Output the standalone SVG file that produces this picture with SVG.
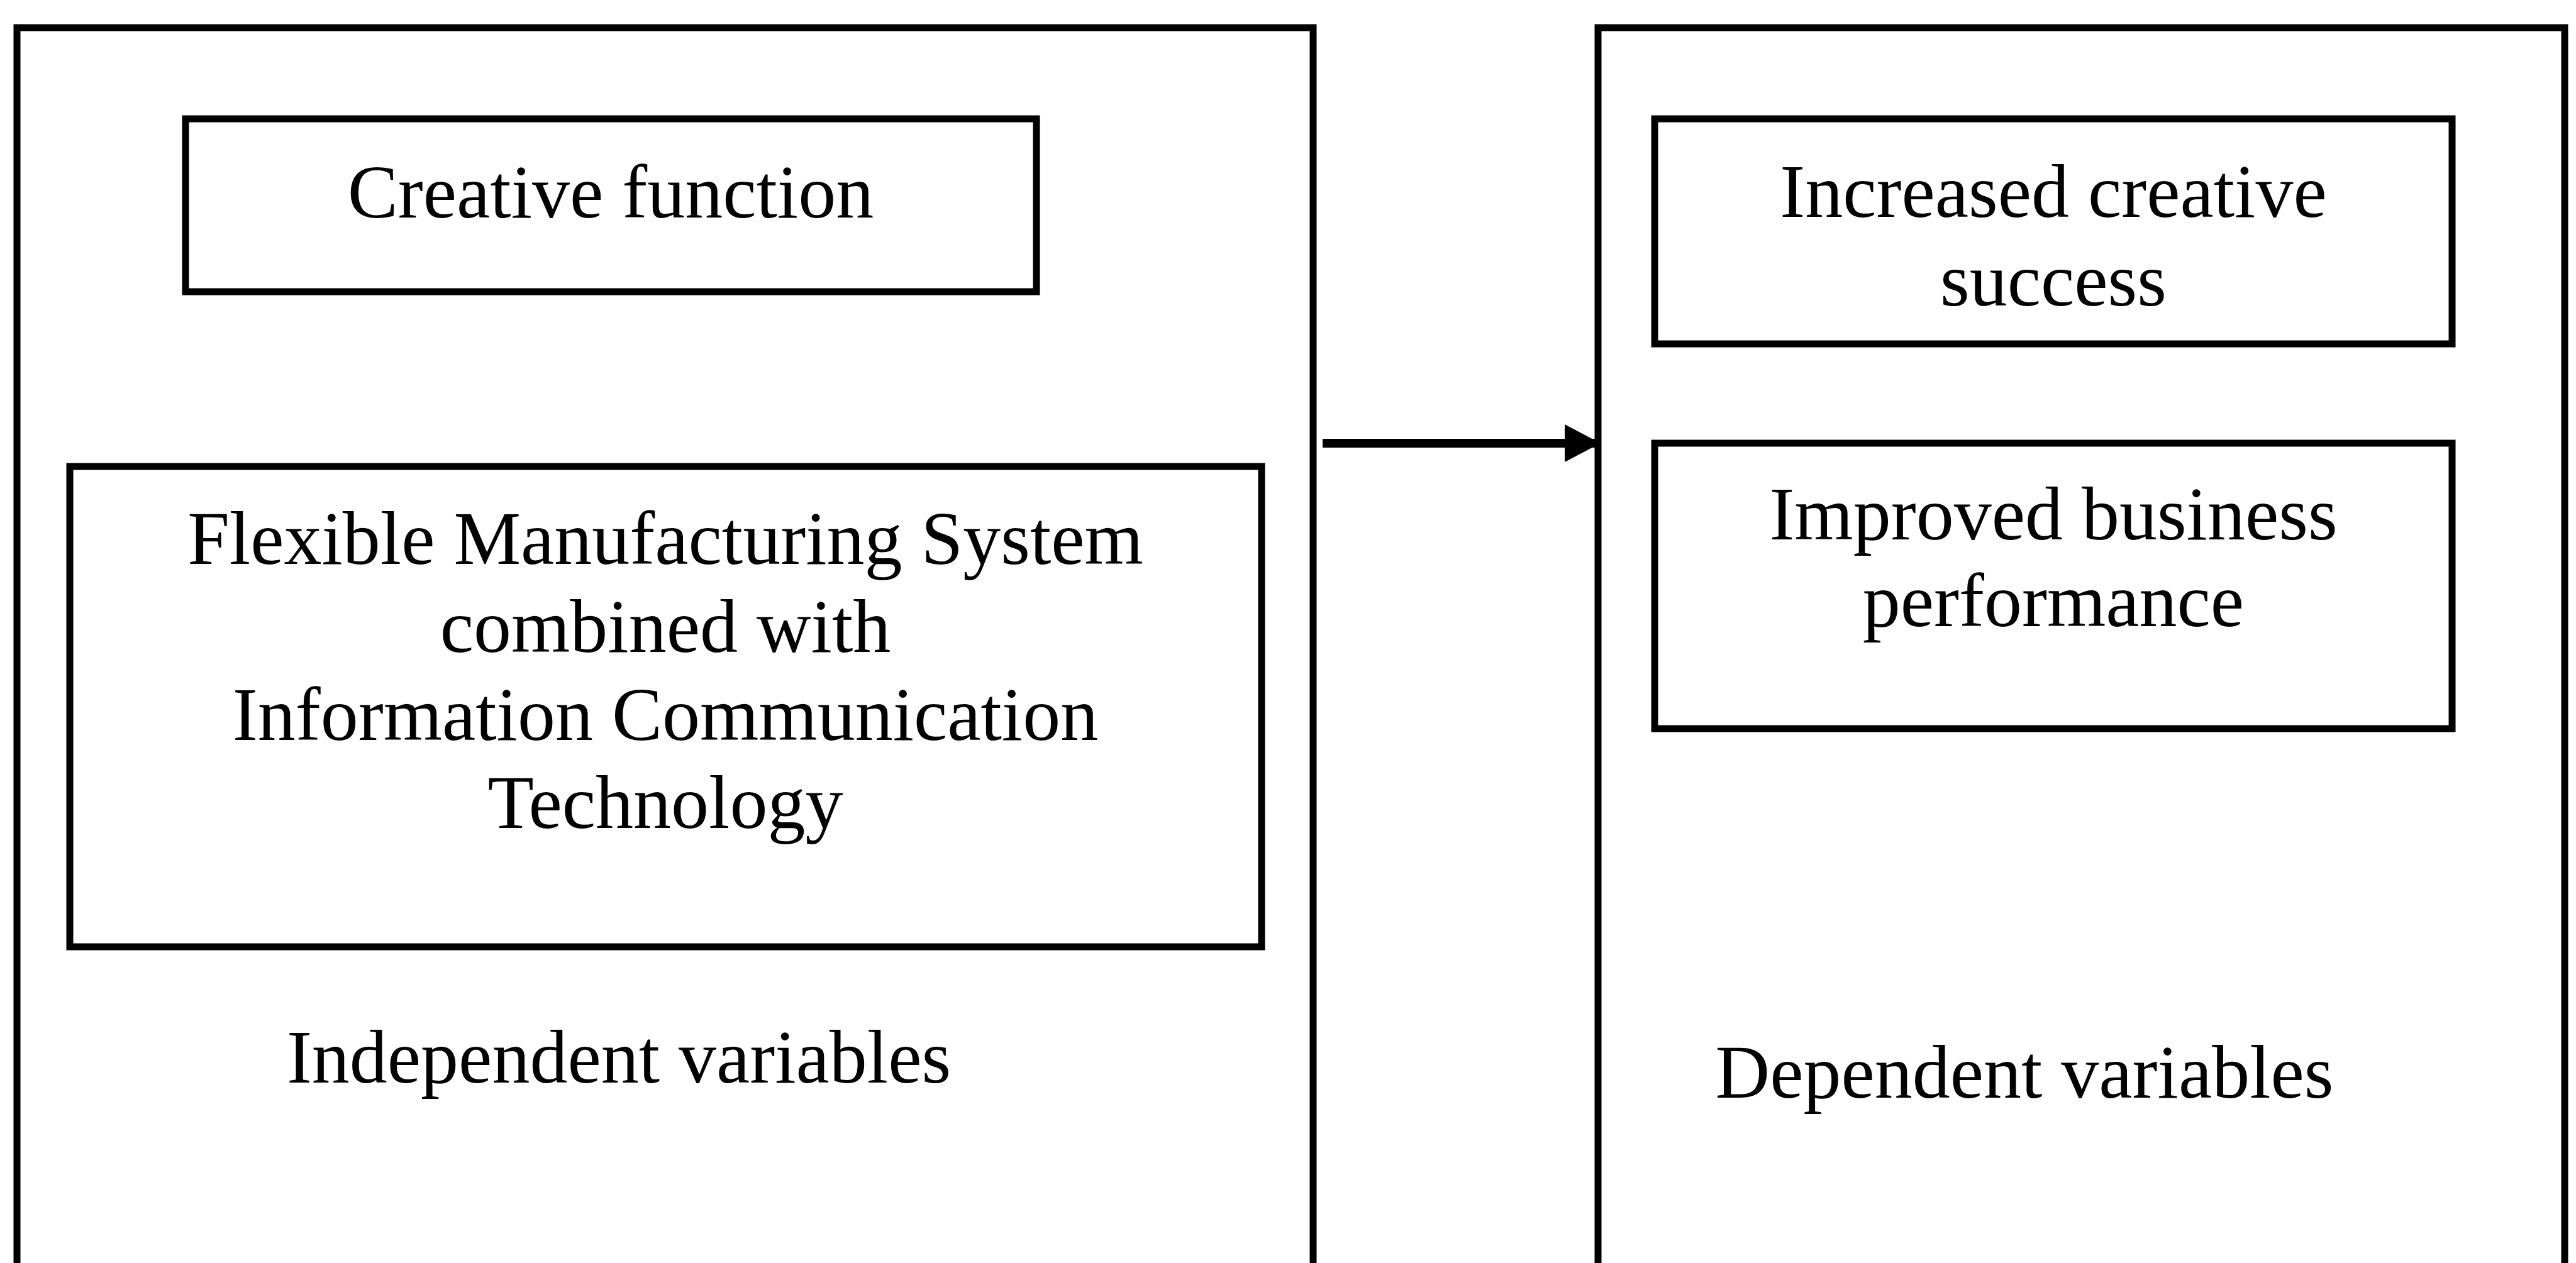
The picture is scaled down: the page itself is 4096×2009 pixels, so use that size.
<svg xmlns="http://www.w3.org/2000/svg" width="4096" height="2009" viewBox="0 0 4096 2009">
  <style>
    .box { fill: none; stroke: #000; stroke-width: 11; }
    .lbl { font-family: "Liberation Serif", "Times New Roman", serif; font-size: 120px; fill: #000; text-anchor: middle; }
    .conn { stroke: #000; stroke-width: 14; fill: none; }
  </style>
  <defs>
    <marker id="arrowhead" markerUnits="userSpaceOnUse" markerWidth="60" markerHeight="62" refX="57" refY="31" orient="auto">
      <path d="M0,1 L57,31 L0,61 Z" fill="#000"/>
    </marker>
  </defs>
  <rect width="4096" height="2009" fill="#fff"/>

  <!-- Independent variables panel -->
  <g id="independent-panel">
    <rect class="box" x="27" y="44" width="2061" height="2020"/>
    <text class="lbl" x="984" y="1722">Independent variables</text>
  </g>
  <g id="creative-function">
    <rect class="box" x="295" y="189" width="1353" height="275"/>
    <text class="lbl" x="971" y="346">Creative function</text>
  </g>
  <g id="fms-ict">
    <rect class="box" x="111" y="742" width="1895" height="764"/>
    <text class="lbl" x="1058" y="897">Flexible Manufacturing System</text>
    <text class="lbl" x="1058" y="1037">combined with</text>
    <text class="lbl" x="1058" y="1177">Information Communication</text>
    <text class="lbl" x="1058" y="1317">Technology</text>
  </g>

  <!-- Dependent variables panel -->
  <g id="dependent-panel">
    <rect class="box" x="2541" y="44" width="1537" height="2020"/>
    <text class="lbl" x="3219" y="1746">Dependent variables</text>
  </g>
  <g id="creative-success">
    <rect class="box" x="2631" y="189" width="1268" height="358"/>
    <text class="lbl" x="3265" y="345">Increased creative</text>
    <text class="lbl" x="3265" y="486">success</text>
  </g>
  <g id="business-performance">
    <rect class="box" x="2631" y="705" width="1268" height="454"/>
    <text class="lbl" x="3265" y="858">Improved business</text>
    <text class="lbl" x="3265" y="996">performance</text>
  </g>

  <!-- Connectors -->
  <g id="connectors">
    <line class="conn" x1="2103" y1="705" x2="2545" y2="705" marker-end="url(#arrowhead)"/>
  </g>
</svg>
